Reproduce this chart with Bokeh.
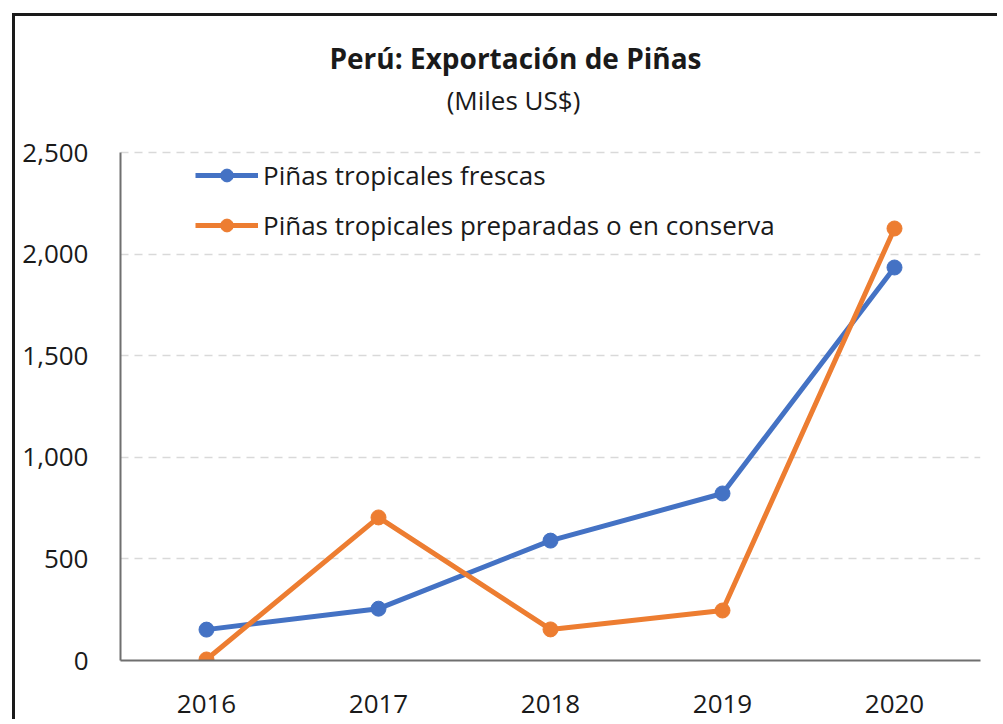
from bokeh.plotting import figure
from bokeh.models import Legend, LegendItem, Label, NumeralTickFormatter, FixedTicker
from bokeh.embed import file_html
from bokeh.resources import INLINE

years = ["2016", "2017", "2018", "2019", "2020"]
frescas = [152, 255, 590, 822, 1934]
conserva = [5, 704, 153, 246, 2126]
y_ticks = [0, 500, 1000, 1500, 2000, 2500]

title_text = "Perú: Exportación de Piñas"
subtitle_text = "(Miles US$)"
label_frescas = "Piñas tropicales frescas"
label_conserva = "Piñas tropicales preparadas o en conserva"

FONT = "Open Sans"
BLUE = "#4472C4"
ORANGE = "#ED7D31"
TXT = "#1a1a1a"

Y_MAX = 2500
# frame extends above the axis top to hold the title texts (630 px frame, 508 px for 0..2500)
y_end = Y_MAX * 630 / 508

p = figure(x_range=years, y_range=(0, y_end), width=985, height=706,
           output_backend="svg", toolbar_location=None,
           min_border_left=105, min_border_right=20, min_border_top=14, min_border_bottom=62)
p.margin = (13, 0, 0, 12)
p.styles = {"border-left": "3px solid #1a1a1a", "border-top": "3px solid #1a1a1a"}
p.outline_line_color = None
p.background_fill_color = "white"
p.border_fill_color = "white"
p.title.visible = False

p.xgrid.grid_line_color = None
p.ygrid.grid_line_color = "#d9d9d9"
p.ygrid.grid_line_dash = "8 6"
p.ygrid.grid_line_width = 1.5

p.yaxis.ticker = FixedTicker(ticks=y_ticks)
p.yaxis.formatter = NumeralTickFormatter(format="0,0")
p.yaxis.bounds = (0, Y_MAX)
for ax in (p.xaxis, p.yaxis):
    ax.axis_line_color = "#6f6f6f"
    ax.axis_line_width = 2
    ax.major_tick_line_color = None
    ax.minor_tick_line_color = None
    ax.major_label_text_font = FONT
    ax.major_label_text_color = TXT
p.yaxis.major_label_text_font_size = "26px"
p.xaxis.major_label_text_font_size = "26px"
p.yaxis.major_label_standoff = 26
p.xaxis.major_label_standoff = 28

l1 = p.line(years, frescas, line_color=BLUE, line_width=5)
s1 = p.scatter(years, frescas, size=15, fill_color=BLUE, line_color=BLUE)
l2 = p.line(years, conserva, line_color=ORANGE, line_width=5)
s2 = p.scatter(years, conserva, size=15, fill_color=ORANGE, line_color=ORANGE)

legend = Legend(items=[LegendItem(label=label_frescas, renderers=[l1, s1]),
                       LegendItem(label=label_conserva, renderers=[l2, s2])],
                location=(75, 417), padding=0, margin=0, spacing=14,
                glyph_width=63, glyph_height=32, label_standoff=5,
                border_line_color=None, background_fill_alpha=0,
                label_text_font=FONT, label_text_font_size="26px",
                label_text_color=TXT)
p.add_layout(legend)

p.add_layout(Label(x=395, y=603, x_units="screen", y_units="screen", text=title_text,
                   text_font=FONT, text_font_size="28px", text_font_style="bold",
                   text_align="center", text_baseline="middle", text_color=TXT))
p.add_layout(Label(x=393, y=561, x_units="screen", y_units="screen", text=subtitle_text,
                   text_font=FONT, text_font_size="26px",
                   text_align="center", text_baseline="middle", text_color=TXT))

open("out.html", "w").write(file_html(p, INLINE))
